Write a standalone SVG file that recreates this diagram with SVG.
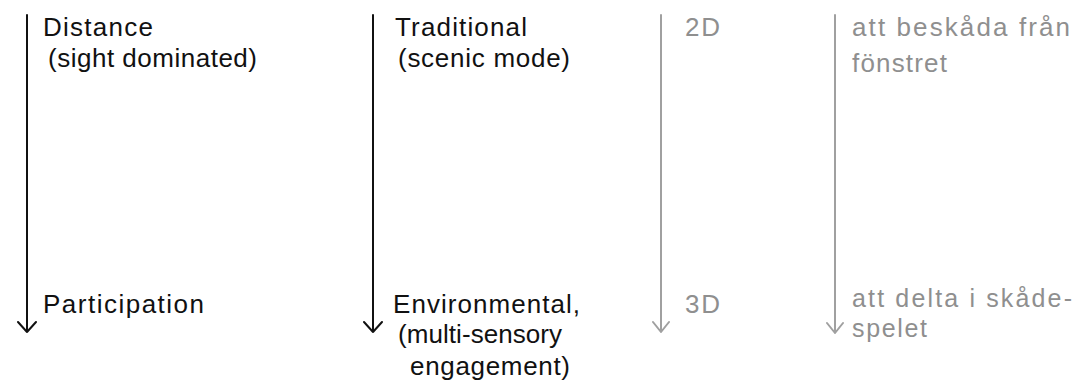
<svg xmlns="http://www.w3.org/2000/svg" width="1075" height="382" viewBox="0 0 1075 382">
  <style>
    text { font-family: "Liberation Sans", Arial, sans-serif; font-size: 26px; }
    .dark { fill: #111; }
    .muted { fill: #8f8f8f; }
    .tight { font-size: 25px; }
    .axis { fill: none; stroke-width: 2; stroke-linecap: round; stroke-linejoin: round; }
    .axis.dark-line { stroke: #111; }
    .axis.muted-line { stroke: #a0a0a0; }
  </style>
  <rect width="1075" height="382" fill="#fff"/>

  <!-- vertical arrows -->
  <g id="connectors">
    <path class="axis dark-line" d="M27 15 V332 M18 322 L27 332 L36 322"/>
    <path class="axis dark-line" d="M373 15 V332 M364 322 L373 332 L382 322"/>
    <path class="axis muted-line" d="M661 15 V332 M653 322 L661 332 L669 322"/>
    <path class="axis muted-line" d="M835 15 V333 M827 323 L835 333 L843 323"/>
  </g>

  <!-- column 1 -->
  <g id="distance">
    <text class="dark" x="43" y="36" textLength="110" lengthAdjust="spacing">Distance</text>
    <text class="dark" x="48" y="67" textLength="209" lengthAdjust="spacing">(sight dominated)</text>
  </g>
  <g id="participation">
    <text class="dark" x="43" y="313" textLength="161" lengthAdjust="spacing">Participation</text>
  </g>

  <!-- column 2 -->
  <g id="traditional">
    <text class="dark" x="395" y="36" textLength="132" lengthAdjust="spacing">Traditional</text>
    <text class="dark" x="398" y="67" textLength="172" lengthAdjust="spacing">(scenic mode)</text>
  </g>
  <g id="environmental">
    <text class="dark" x="393" y="313" textLength="187" lengthAdjust="spacing">Environmental,</text>
    <text class="dark" x="398" y="343" textLength="164" lengthAdjust="spacing">(multi-sensory</text>
    <text class="dark" x="410" y="375" textLength="160" lengthAdjust="spacing">engagement)</text>
  </g>

  <!-- column 3 -->
  <g id="dim-2d">
    <text class="muted" x="685" y="36" textLength="35" lengthAdjust="spacing">2D</text>
  </g>
  <g id="dim-3d">
    <text class="muted" x="685" y="313" textLength="35" lengthAdjust="spacing">3D</text>
  </g>

  <!-- column 4 -->
  <g id="beskada">
    <text class="muted" x="852" y="36" textLength="218" lengthAdjust="spacing">att beskåda från</text>
    <text class="muted" x="852" y="72" textLength="95" lengthAdjust="spacing">fönstret</text>
  </g>
  <g id="delta">
    <text class="muted tight" x="852" y="307" textLength="220" lengthAdjust="spacing">att delta i skåde-</text>
    <text class="muted tight" x="852" y="337" textLength="75" lengthAdjust="spacing">spelet</text>
  </g>
</svg>
